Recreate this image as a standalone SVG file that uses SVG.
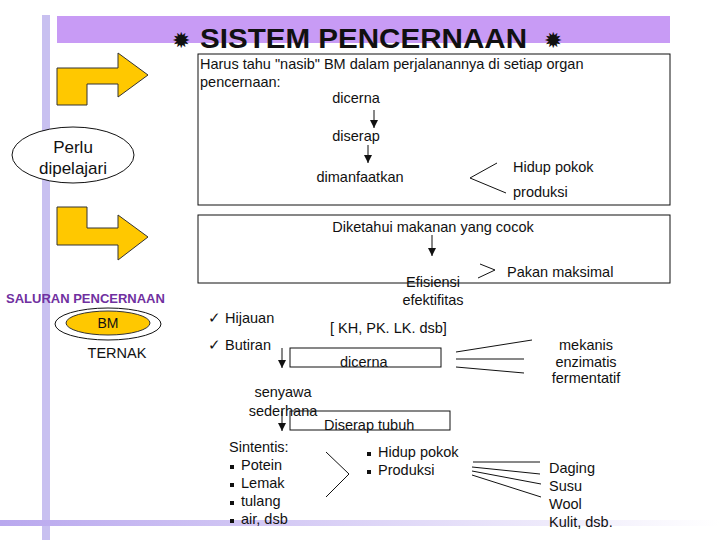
<svg xmlns="http://www.w3.org/2000/svg" width="720" height="540" viewBox="0 0 720 540">
<defs>
<style>
text{font-family:"Liberation Sans",Arial,sans-serif;fill:#111}
.t{font-size:14.5px}
.m{text-anchor:middle}
.ln{stroke:#111;stroke-width:1;fill:none}
.bx{fill:none;stroke:#111;stroke-width:1}
.yl{fill:#FFC800;stroke:#333;stroke-width:1}
</style>
<linearGradient id="hg" x1="0" x2="1" y1="0" y2="0"><stop offset="0" stop-color="#b9a8ee"/><stop offset="1" stop-color="#ffffff"/></linearGradient>
<marker id="ah" markerWidth="8" markerHeight="8" refX="8" refY="4" orient="auto" markerUnits="userSpaceOnUse"><path d="M0,0 L8,4 L0,8 Z" fill="#111"/></marker>
</defs>
<rect width="720" height="540" fill="#fff"/>
<g id="frame">
<rect x="42" y="15" width="8" height="525" fill="#c8c0f0"/>
<rect x="0" y="520" width="720" height="6" fill="url(#hg)"/>
<rect x="57" y="16" width="613" height="27" fill="#C89BF5"/>
<text x="181" y="48" class="m" style="font-size:22px">✹</text>
<text x="200" y="48" textLength="327" lengthAdjust="spacingAndGlyphs" style="font-size:27px;font-weight:bold">SISTEM PENCERNAAN</text>
<text x="553" y="48" class="m" style="font-size:22px">✹</text>
</g>
<g id="arrows">
<polygon class="yl" points="57,105 57,68 118,68 118,53 148,75 118,97 118,84 87,84 87,105"/>
<polygon class="yl" points="57,207 87,207 87,228 118,228 118,215 148,237 118,260 118,245 57,245"/>
</g>
<g id="perlu">
<ellipse cx="73" cy="155" rx="61" ry="28" fill="#fff" stroke="#111"/>
<text x="73" y="153" class="m" style="font-size:17px">Perlu</text>
<text x="73" y="174" class="m" style="font-size:17px">dipelajari</text>
</g>
<g id="box1">
<rect class="bx" x="198" y="54" width="472" height="151"/>
<text x="200" y="69" class="t">Harus tahu "nasib" BM dalam perjalanannya di setiap organ</text>
<text x="200" y="87" class="t">pencernaan:</text>
<text x="356" y="103" class="t m">dicerna</text>
<text x="356" y="141" class="t m">diserap</text>
<text x="360" y="182" class="t m">dimanfaatkan</text>
<text x="513" y="172" class="t">Hidup pokok</text>
<text x="513" y="197" class="t">produksi</text>
</g>
<g id="box2">
<rect class="bx" x="198" y="215" width="472" height="68"/>
<text x="433" y="232" class="t m">Diketahui makanan yang cocok</text>
<text x="507" y="277" class="t">Pakan maksimal</text>
<text x="433" y="287" class="t m">Efisiensi</text>
<text x="433" y="305" class="t m">efektifitas</text>
</g>
<g id="saluran">
<text x="6" y="303" style="font-size:13px;font-weight:bold;fill:#7030A0">SALURAN PENCERNAAN</text>
<ellipse cx="108" cy="324" rx="53" ry="16" fill="#fff" stroke="#111"/>
<ellipse cx="108" cy="323" rx="42" ry="12" class="yl"/>
<text x="108" y="328" class="m" style="font-size:14px">BM</text>
<text x="117" y="358" class="m" style="font-size:14.5px">TERNAK</text>
</g>
<g id="pakan">
<text x="208" y="323" class="t">✓ Hijauan</text>
<text x="208" y="350" class="t">✓ Butiran</text>
<text x="330" y="333" class="t">[ KH, PK. LK. dsb]</text>
<rect class="bx" x="290" y="348" width="151" height="19"/>
<text x="340" y="367" class="t">dicerna</text>
<text x="586" y="350" class="t m">mekanis</text>
<text x="586" y="367" class="t m">enzimatis</text>
<text x="586" y="383" class="t m">fermentatif</text>
<text x="283" y="397" class="t m">senyawa</text>
<text x="283" y="416" class="t m">sederhana</text>
<rect class="bx" x="290" y="411" width="160" height="19"/>
<text x="324" y="430" class="t">Diserap tubuh</text>
</g>
<g id="sintesis">
<text x="229" y="452" class="t">Sintentis:</text>
<rect x="230" y="465" width="4" height="4" fill="#111"/><text x="241" y="470" class="t">Potein</text>
<rect x="230" y="483" width="4" height="4" fill="#111"/><text x="241" y="488" class="t">Lemak</text>
<rect x="230" y="501" width="4" height="4" fill="#111"/><text x="241" y="506" class="t">tulang</text>
<rect x="230" y="519" width="4" height="4" fill="#111"/><text x="241" y="524" class="t">air, dsb</text>
<rect x="367" y="452" width="4" height="4" fill="#111"/><text x="378" y="457" class="t">Hidup pokok</text>
<rect x="367" y="470" width="4" height="4" fill="#111"/><text x="378" y="475" class="t">Produksi</text>
<text x="549" y="473" class="t">Daging</text>
<text x="549" y="491" class="t">Susu</text>
<text x="549" y="509" class="t">Wool</text>
<text x="549" y="527" class="t">Kulit, dsb.</text>
</g>
<g id="connectors">
<line class="ln" x1="374" y1="110" x2="374" y2="128" marker-end="url(#ah)"/>
<line class="ln" x1="368" y1="145" x2="368" y2="163" marker-end="url(#ah)"/>
<polyline class="ln" points="497,163 470,178 506,193"/>
<line class="ln" x1="432" y1="235" x2="432" y2="256" marker-end="url(#ah)"/>
<polyline class="ln" points="480,264 495,270 478,278"/>
<line class="ln" x1="282" y1="348" x2="282" y2="368" marker-end="url(#ah)"/>
<line class="ln" x1="456" y1="352" x2="532" y2="340"/>
<line class="ln" x1="456" y1="359" x2="524" y2="359"/>
<line class="ln" x1="456" y1="367" x2="524" y2="373"/>
<line class="ln" x1="282" y1="411" x2="282" y2="431" marker-end="url(#ah)"/>
<polyline class="ln" points="326,452 349,474 326,497"/>
<line class="ln" x1="473" y1="462" x2="540" y2="462"/>
<line class="ln" x1="472" y1="467" x2="540" y2="474"/>
<line class="ln" x1="472" y1="471" x2="541" y2="484"/>
<line class="ln" x1="472" y1="475" x2="541" y2="497"/>
</g>
</svg>
